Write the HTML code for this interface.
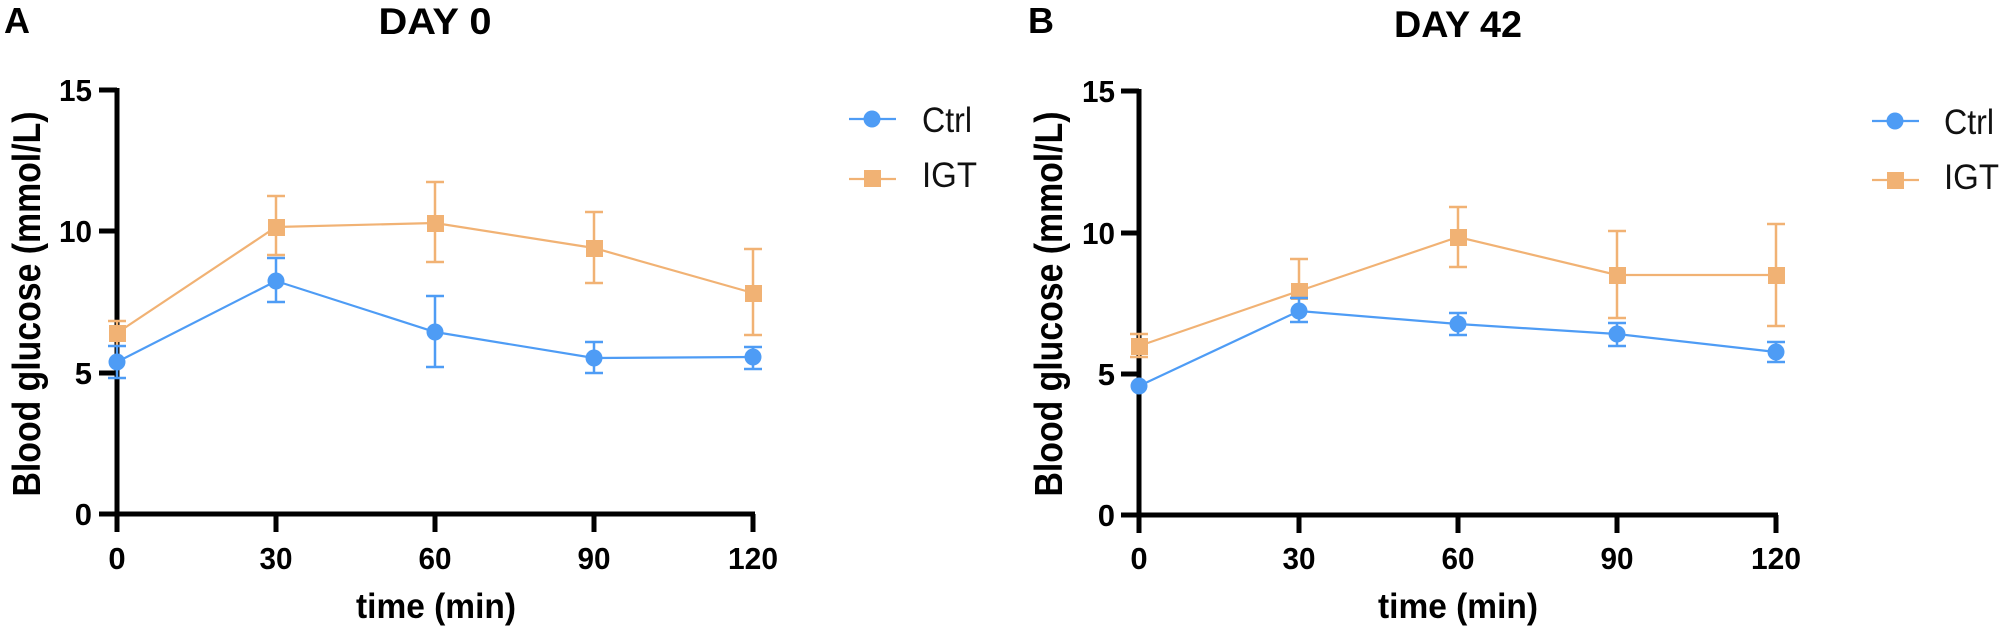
<!DOCTYPE html>
<html>
<head>
<meta charset="utf-8">
<style>
  html, body { margin: 0; padding: 0; background: #ffffff; }
  svg { display: block; }
  text { font-family: "Liberation Sans", Arial, sans-serif; }
  .b { font-weight: bold; fill: #000; }
</style>
</head>
<body>
<svg width="2008" height="630" viewBox="0 0 2008 630" xmlns="http://www.w3.org/2000/svg">
  <rect width="2008" height="630" fill="#ffffff"/>

  <!-- ================= PANEL A ================= -->
  <text class="b" x="4" y="33" font-size="36">A</text>
  <text class="b" x="435" y="34" font-size="37" text-anchor="middle" textLength="113" lengthAdjust="spacingAndGlyphs">DAY 0</text>

  <!-- y label -->
  <text class="b" transform="translate(40,304) rotate(-90)" font-size="39" text-anchor="middle" textLength="385" lengthAdjust="spacingAndGlyphs">Blood glucose (mmol/L)</text>

  <!-- axes -->
  <g stroke="#000" stroke-width="5" fill="none">
    <line x1="117" y1="88" x2="117" y2="532"/>
    <line x1="99" y1="514" x2="755" y2="514"/>
    <line x1="99" y1="90" x2="117" y2="90"/>
    <line x1="99" y1="231" x2="117" y2="231"/>
    <line x1="99" y1="373" x2="117" y2="373"/>
    <line x1="276" y1="514" x2="276" y2="532"/>
    <line x1="435" y1="514" x2="435" y2="532"/>
    <line x1="594" y1="514" x2="594" y2="532"/>
    <line x1="753" y1="514" x2="753" y2="532"/>
  </g>
  <g font-size="31" text-anchor="end">
    <text class="b" x="92" y="101" textLength="33" lengthAdjust="spacingAndGlyphs">15</text>
    <text class="b" x="92" y="242" textLength="33" lengthAdjust="spacingAndGlyphs">10</text>
    <text class="b" x="92" y="384">5</text>
    <text class="b" x="92" y="525">0</text>
  </g>
  <g font-size="31" text-anchor="middle">
    <text class="b" x="117" y="569">0</text>
    <text class="b" x="276" y="569" textLength="33" lengthAdjust="spacingAndGlyphs">30</text>
    <text class="b" x="435" y="569" textLength="33" lengthAdjust="spacingAndGlyphs">60</text>
    <text class="b" x="594" y="569" textLength="33" lengthAdjust="spacingAndGlyphs">90</text>
    <text class="b" x="753" y="569" textLength="50" lengthAdjust="spacingAndGlyphs">120</text>
  </g>
  <text class="b" x="436" y="618" font-size="35" text-anchor="middle" textLength="160" lengthAdjust="spacingAndGlyphs">time (min)</text>

  <!-- IGT series A -->
  <g stroke="#f1b274" stroke-width="2.5" fill="none">
    <line x1="117" y1="321" x2="117" y2="345"/><line x1="108" y1="321" x2="126" y2="321"/>
    <line x1="276" y1="196" x2="276" y2="255"/><line x1="267" y1="196" x2="285" y2="196"/><line x1="267" y1="255" x2="285" y2="255"/>
    <line x1="435" y1="182" x2="435" y2="262"/><line x1="426" y1="182" x2="444" y2="182"/><line x1="426" y1="262" x2="444" y2="262"/>
    <line x1="594" y1="212" x2="594" y2="283"/><line x1="585" y1="212" x2="603" y2="212"/><line x1="585" y1="283" x2="603" y2="283"/>
    <line x1="753" y1="249" x2="753" y2="335"/><line x1="744" y1="249" x2="762" y2="249"/><line x1="744" y1="335" x2="762" y2="335"/>
    <polyline stroke-width="2.2" points="117,333 276,227 435,223 594,248 753,293"/>
  </g>
  <g fill="#f1b274">
    <rect x="109" y="325" width="17" height="17"/>
    <rect x="268" y="219" width="17" height="17"/>
    <rect x="427" y="215" width="17" height="17"/>
    <rect x="586" y="240" width="17" height="17"/>
    <rect x="745" y="285" width="17" height="17"/>
  </g>

  <!-- Ctrl series A -->
  <g stroke="#4e9cf5" stroke-width="2.5" fill="none">
    <line x1="117" y1="346" x2="117" y2="378"/><line x1="108" y1="346" x2="126" y2="346"/><line x1="108" y1="378" x2="126" y2="378"/>
    <line x1="276" y1="258" x2="276" y2="302"/><line x1="267" y1="258" x2="285" y2="258"/><line x1="267" y1="302" x2="285" y2="302"/>
    <line x1="435" y1="296" x2="435" y2="367"/><line x1="426" y1="296" x2="444" y2="296"/><line x1="426" y1="367" x2="444" y2="367"/>
    <line x1="594" y1="342" x2="594" y2="373"/><line x1="585" y1="342" x2="603" y2="342"/><line x1="585" y1="373" x2="603" y2="373"/>
    <line x1="753" y1="347" x2="753" y2="369"/><line x1="744" y1="347" x2="762" y2="347"/><line x1="744" y1="369" x2="762" y2="369"/>
    <polyline stroke-width="2.2" points="117,362 276,281 435,332 594,358 753,357"/>
  </g>
  <g fill="#4e9cf5">
    <circle cx="117" cy="362" r="8.5"/>
    <circle cx="276" cy="281" r="8.5"/>
    <circle cx="435" cy="332" r="8.5"/>
    <circle cx="594" cy="358" r="8.5"/>
    <circle cx="753" cy="357" r="8.5"/>
  </g>

  <!-- legend A -->
  <line x1="849" y1="119" x2="896" y2="119" stroke="#4e9cf5" stroke-width="2.2"/>
  <circle cx="872" cy="119" r="8.5" fill="#4e9cf5"/>
  <text x="922" y="132" font-size="35" fill="#111" textLength="50" lengthAdjust="spacingAndGlyphs">Ctrl</text>
  <line x1="849" y1="179" x2="896" y2="179" stroke="#f1b274" stroke-width="2.2"/>
  <rect x="864" y="170" width="17" height="17" fill="#f1b274"/>
  <text x="922" y="187" font-size="35" fill="#111" textLength="55" lengthAdjust="spacingAndGlyphs">IGT</text>

  <!-- ================= PANEL B ================= -->
  <text class="b" x="1028" y="33" font-size="36">B</text>
  <text class="b" x="1458" y="37" font-size="37" text-anchor="middle" textLength="128" lengthAdjust="spacingAndGlyphs">DAY 42</text>

  <text class="b" transform="translate(1062,304) rotate(-90)" font-size="39" text-anchor="middle" textLength="385" lengthAdjust="spacingAndGlyphs">Blood glucose (mmol/L)</text>

  <g stroke="#000" stroke-width="5" fill="none">
    <line x1="1139" y1="89" x2="1139" y2="533"/>
    <line x1="1121" y1="515" x2="1778" y2="515"/>
    <line x1="1121" y1="91" x2="1139" y2="91"/>
    <line x1="1121" y1="233" x2="1139" y2="233"/>
    <line x1="1121" y1="374" x2="1139" y2="374"/>
    <line x1="1299" y1="515" x2="1299" y2="533"/>
    <line x1="1458" y1="515" x2="1458" y2="533"/>
    <line x1="1617" y1="515" x2="1617" y2="533"/>
    <line x1="1776" y1="515" x2="1776" y2="533"/>
  </g>
  <g font-size="31" text-anchor="end">
    <text class="b" x="1115" y="102" textLength="33" lengthAdjust="spacingAndGlyphs">15</text>
    <text class="b" x="1115" y="244" textLength="33" lengthAdjust="spacingAndGlyphs">10</text>
    <text class="b" x="1115" y="385">5</text>
    <text class="b" x="1115" y="526">0</text>
  </g>
  <g font-size="31" text-anchor="middle">
    <text class="b" x="1139" y="569">0</text>
    <text class="b" x="1299" y="569" textLength="33" lengthAdjust="spacingAndGlyphs">30</text>
    <text class="b" x="1458" y="569" textLength="33" lengthAdjust="spacingAndGlyphs">60</text>
    <text class="b" x="1617" y="569" textLength="33" lengthAdjust="spacingAndGlyphs">90</text>
    <text class="b" x="1776" y="569" textLength="50" lengthAdjust="spacingAndGlyphs">120</text>
  </g>
  <text class="b" x="1458" y="618" font-size="35" text-anchor="middle" textLength="160" lengthAdjust="spacingAndGlyphs">time (min)</text>

  <!-- IGT series B -->
  <g stroke="#f1b274" stroke-width="2.5" fill="none">
    <line x1="1139" y1="334" x2="1139" y2="357"/><line x1="1130" y1="334" x2="1148" y2="334"/><line x1="1130" y1="357" x2="1148" y2="357"/>
    <line x1="1299" y1="259" x2="1299" y2="300"/><line x1="1290" y1="259" x2="1308" y2="259"/>
    <line x1="1458" y1="207" x2="1458" y2="267"/><line x1="1449" y1="207" x2="1467" y2="207"/><line x1="1449" y1="267" x2="1467" y2="267"/>
    <line x1="1617" y1="231" x2="1617" y2="318"/><line x1="1608" y1="231" x2="1626" y2="231"/><line x1="1608" y1="318" x2="1626" y2="318"/>
    <line x1="1776" y1="224" x2="1776" y2="326"/><line x1="1767" y1="224" x2="1785" y2="224"/><line x1="1767" y1="326" x2="1785" y2="326"/>
    <polyline stroke-width="2.2" points="1139,346 1299,291 1458,237 1617,275 1776,275"/>
  </g>
  <g fill="#f1b274">
    <rect x="1131" y="338" width="17" height="17"/>
    <rect x="1291" y="283" width="17" height="17"/>
    <rect x="1450" y="229" width="17" height="17"/>
    <rect x="1609" y="267" width="17" height="17"/>
    <rect x="1768" y="267" width="17" height="17"/>
  </g>

  <!-- Ctrl series B -->
  <g stroke="#4e9cf5" stroke-width="2.5" fill="none">
    <line x1="1299" y1="298" x2="1299" y2="322"/><line x1="1290" y1="298" x2="1308" y2="298"/><line x1="1290" y1="322" x2="1308" y2="322"/>
    <line x1="1458" y1="313" x2="1458" y2="335"/><line x1="1449" y1="313" x2="1467" y2="313"/><line x1="1449" y1="335" x2="1467" y2="335"/>
    <line x1="1617" y1="323" x2="1617" y2="346"/><line x1="1608" y1="323" x2="1626" y2="323"/><line x1="1608" y1="346" x2="1626" y2="346"/>
    <line x1="1776" y1="342" x2="1776" y2="362"/><line x1="1767" y1="342" x2="1785" y2="342"/><line x1="1767" y1="362" x2="1785" y2="362"/>
    <polyline stroke-width="2.2" points="1139,386 1299,311 1458,324 1617,334 1776,352"/>
  </g>
  <g fill="#4e9cf5">
    <circle cx="1139" cy="386" r="8.5"/>
    <circle cx="1299" cy="311" r="8.5"/>
    <circle cx="1458" cy="324" r="8.5"/>
    <circle cx="1617" cy="334" r="8.5"/>
    <circle cx="1776" cy="352" r="8.5"/>
  </g>

  <!-- legend B -->
  <line x1="1872" y1="121" x2="1919" y2="121" stroke="#4e9cf5" stroke-width="2.2"/>
  <circle cx="1895" cy="121" r="8.5" fill="#4e9cf5"/>
  <text x="1944" y="134" font-size="35" fill="#111" textLength="50" lengthAdjust="spacingAndGlyphs">Ctrl</text>
  <line x1="1872" y1="180" x2="1919" y2="180" stroke="#f1b274" stroke-width="2.2"/>
  <rect x="1887" y="172" width="17" height="17" fill="#f1b274"/>
  <text x="1944" y="189" font-size="35" fill="#111" textLength="55" lengthAdjust="spacingAndGlyphs">IGT</text>
</svg>
</body>
</html>
